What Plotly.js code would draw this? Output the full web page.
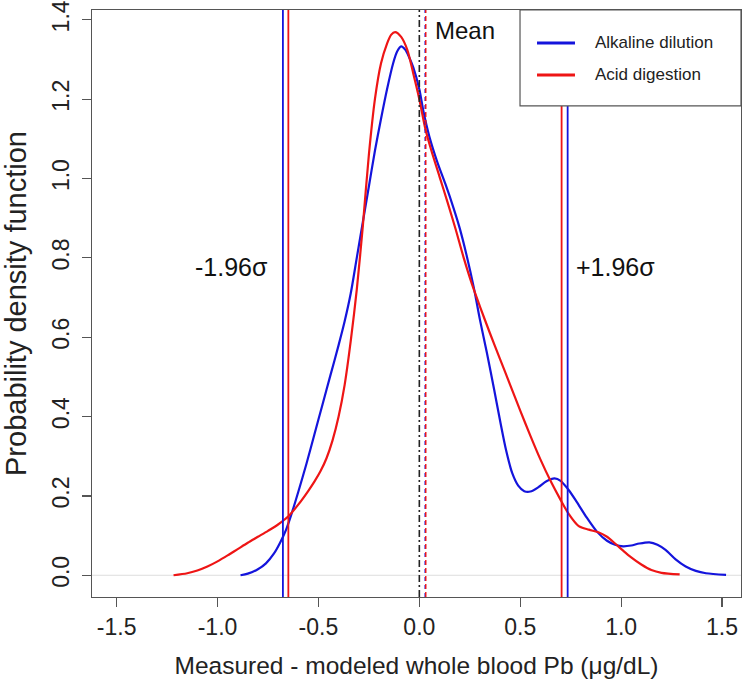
<!DOCTYPE html>
<html>
<head>
<meta charset="utf-8">
<script src="https://cdn.plot.ly/plotly-3.0.1.min.js"></script>
<style>html,body{margin:0;padding:0;background:#fff;}#chart{width:750px;height:687px;}</style>
</head>
<body>
<div id="chart"></div>
<script>
// Kernel density estimate of measured - modeled whole blood Pb
const alkalineX = [-0.886,-0.85,-0.80,-0.76,-0.72,-0.69,-0.66,-0.63,-0.60,-0.56,-0.52,-0.48,-0.44,-0.40,-0.37,-0.34,-0.31,-0.28,-0.25,-0.22,-0.19,-0.16,-0.13,-0.11,-0.09,-0.07,-0.05,-0.03,0.00,0.02,0.05,0.09,0.13,0.17,0.20,0.235,0.27,0.30,0.335,0.37,0.40,0.43,0.46,0.49,0.52,0.55,0.59,0.63,0.67,0.70,0.74,0.78,0.83,0.88,0.93,0.97,1.01,1.05,1.09,1.14,1.18,1.22,1.27,1.32,1.37,1.42,1.52];
const alkalineY = [0.000,0.004,0.015,0.030,0.055,0.082,0.115,0.160,0.210,0.280,0.355,0.430,0.505,0.580,0.640,0.710,0.800,0.890,0.980,1.070,1.150,1.225,1.290,1.320,1.333,1.325,1.305,1.280,1.225,1.170,1.105,1.040,0.985,0.925,0.875,0.805,0.725,0.645,0.560,0.470,0.390,0.315,0.258,0.226,0.212,0.211,0.222,0.237,0.244,0.238,0.215,0.185,0.145,0.110,0.087,0.077,0.073,0.075,0.080,0.083,0.077,0.064,0.040,0.022,0.011,0.005,0.001];

const acidX = [-1.218,-1.15,-1.10,-1.05,-1.00,-0.95,-0.90,-0.85,-0.80,-0.75,-0.70,-0.65,-0.60,-0.55,-0.52,-0.49,-0.46,-0.43,-0.40,-0.37,-0.34,-0.31,-0.28,-0.25,-0.22,-0.19,-0.16,-0.14,-0.12,-0.09,-0.06,-0.03,0.00,0.03,0.06,0.10,0.14,0.18,0.22,0.26,0.30,0.35,0.40,0.45,0.50,0.55,0.60,0.65,0.70,0.74,0.79,0.84,0.89,0.93,0.97,1.01,1.05,1.10,1.15,1.20,1.29];
const acidY = [0.000,0.005,0.012,0.022,0.035,0.050,0.066,0.082,0.097,0.112,0.128,0.148,0.178,0.213,0.236,0.262,0.295,0.340,0.400,0.480,0.590,0.720,0.880,1.060,1.200,1.290,1.340,1.362,1.369,1.357,1.325,1.265,1.200,1.125,1.070,1.005,0.940,0.872,0.800,0.735,0.678,0.610,0.545,0.480,0.415,0.352,0.292,0.238,0.190,0.155,0.124,0.115,0.108,0.097,0.080,0.062,0.045,0.027,0.013,0.006,0.002];

const seriesNames = ["Alkaline dilution", "Acid digestion"];
const seriesColors = ["#1414dc", "#ee1515"];

// Mean and ±1.96σ limits for each method
const alkalineLimits = {lower: -0.676, mean: 0.029, upper: 0.735};
const acidLimits = {lower: -0.649, mean: 0.032, upper: 0.705};
const zeroLine = 0.0;

const xTicks = [-1.5, -1.0, -0.5, 0.0, 0.5, 1.0, 1.5];
const xTickText = ["-1.5", "-1.0", "-0.5", "0.0", "0.5", "1.0", "1.5"];
const yTicks = [0.0, 0.2, 0.4, 0.6, 0.8, 1.0, 1.2, 1.4];
const yTickText = ["0.0", "0.2", "0.4", "0.6", "0.8", "1.0", "1.2", "1.4"];

const FONT = "Liberation Sans, Arial, Helvetica, sans-serif";

const traces = [
  {x: alkalineX, y: alkalineY, mode: "lines", name: seriesNames[0],
   line: {color: seriesColors[0], width: 2.2, shape: "spline", smoothing: 0.8}, showlegend: false},
  {x: acidX, y: acidY, mode: "lines", name: seriesNames[1],
   line: {color: seriesColors[1], width: 2.2, shape: "spline", smoothing: 0.8}, showlegend: false}
];

function vline(x, color, dash, width) {
  return {type: "line", xref: "x", yref: "paper", x0: x, x1: x, y0: 0, y1: 1,
          line: {color: color, width: width, dash: dash}, layer: "above"};
}

const shapes = [
  {type: "line", xref: "paper", yref: "y", x0: 0, x1: 1, y0: 0, y1: 0,
   line: {color: "#dddddd", width: 1}, layer: "below"},
  vline(alkalineLimits.lower, seriesColors[0], "solid", 1.8),
  vline(acidLimits.lower, seriesColors[1], "solid", 1.8),
  vline(acidLimits.upper, seriesColors[1], "solid", 1.8),
  vline(alkalineLimits.upper, seriesColors[0], "solid", 1.8),
  vline(zeroLine, "#222222", "7px,3px,2px,3px", 1.6),
  vline(alkalineLimits.mean, seriesColors[0], "4px,4px", 1.4),
  vline(acidLimits.mean, seriesColors[1], "5px,3px", 1.4),
  // legend box
  {type: "rect", xref: "paper", yref: "paper", x0: 0.6595, x1: 1.0, y0: 0.8366, y1: 1.0,
   line: {color: "#555555", width: 1.2}, fillcolor: "#ffffff", layer: "above"},
  {type: "line", xref: "paper", yref: "paper", x0: 0.6857, x1: 0.7442, y0: 0.9438, y1: 0.9438,
   line: {color: seriesColors[0], width: 3}, layer: "above"},
  {type: "line", xref: "paper", yref: "paper", x0: 0.6857, x1: 0.7442, y0: 0.8894, y1: 0.8894,
   line: {color: seriesColors[1], width: 3}, layer: "above"}
];

const annotations = [
  {text: "Mean", x: 0.068, y: 1.372, xref: "x", yref: "y", xanchor: "left", yanchor: "middle",
   showarrow: false, font: {family: FONT, size: 24, color: "#111"}},
  {text: "-1.96σ", x: -0.93, y: 0.777, xref: "x", yref: "y", xanchor: "center", yanchor: "middle",
   showarrow: false, font: {family: FONT, size: 25, color: "#111"}},
  {text: "+1.96σ", x: 0.97, y: 0.777, xref: "x", yref: "y", xanchor: "center", yanchor: "middle",
   showarrow: false, font: {family: FONT, size: 25, color: "#111"}},
  {text: seriesNames[0], x: 0.772, y: 0.9438, xref: "paper", yref: "paper", xanchor: "left", yanchor: "middle",
   showarrow: false, font: {family: FONT, size: 17, color: "#222"}},
  {text: seriesNames[1], x: 0.772, y: 0.8894, xref: "paper", yref: "paper", xanchor: "left", yanchor: "middle",
   showarrow: false, font: {family: FONT, size: 17, color: "#222"}}
];

const layout = {
  width: 750, height: 687,
  margin: {l: 92, r: 9, t: 10, b: 89.5},
  paper_bgcolor: "#ffffff", plot_bgcolor: "#ffffff",
  font: {family: FONT, color: "#222"},
  showlegend: false,
  xaxis: {
    range: [-1.622, 1.594], tickmode: "array", tickvals: xTicks, ticktext: xTickText,
    showgrid: false, zeroline: false, showline: true, mirror: true, linecolor: "#555", linewidth: 1.2,
    ticks: "outside", ticklen: 9, tickcolor: "#555", tickwidth: 1.2,
    tickfont: {family: FONT, size: 23, color: "#222"},
    title: {text: "Measured - modeled whole blood Pb (μg/dL)", font: {family: FONT, size: 24.5, color: "#222"}, standoff: 18}
  },
  yaxis: {
    range: [-0.0548, 1.4248], tickmode: "array", tickvals: yTicks, ticktext: yTickText,
    showgrid: false, zeroline: false, showline: true, mirror: true, linecolor: "#555", linewidth: 1.2,
    ticks: "outside", ticklen: 9, tickcolor: "#555", tickwidth: 1.2, tickangle: -90,
    ticklabelstandoff: 4,
    tickfont: {family: FONT, size: 23, color: "#222"},
    title: {text: "Probability density function", font: {family: FONT, size: 29, color: "#222"}, standoff: 12}
  },
  shapes: shapes,
  annotations: annotations
};

Plotly.newPlot("chart", traces, layout, {displayModeBar: false, staticPlot: true});
</script>
</body>
</html>
